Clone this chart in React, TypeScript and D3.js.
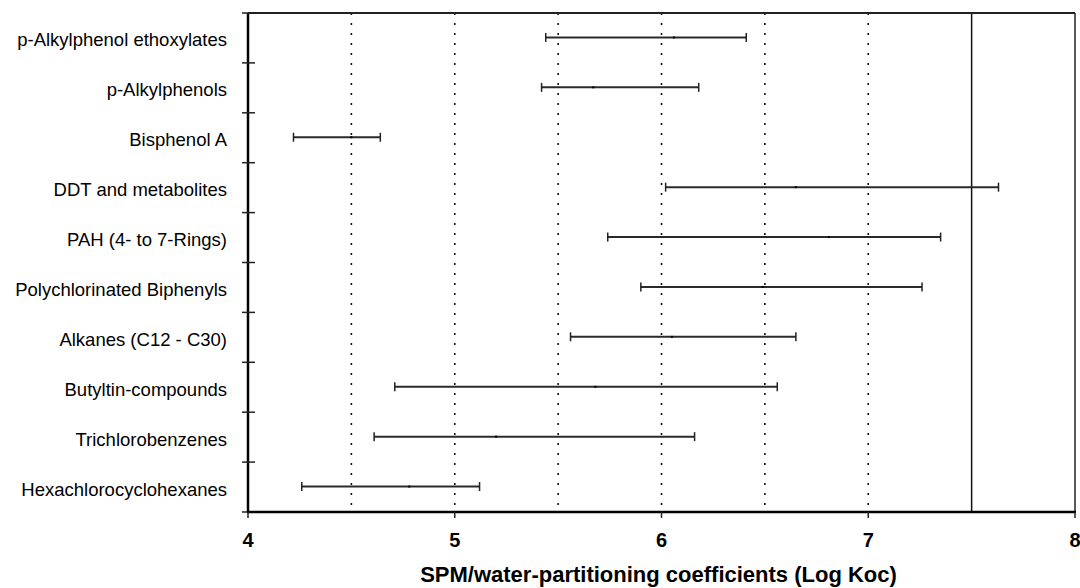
import React, { useEffect, useRef } from 'react';
import * as d3 from 'd3';

// categories, top to bottom
const categories = [
  'p-Alkylphenol ethoxylates',
  'p-Alkylphenols',
  'Bisphenol A',
  'DDT and metabolites',
  'PAH (4- to 7-Rings)',
  'Polychlorinated Biphenyls',
  'Alkanes (C12 - C30)',
  'Butyltin-compounds',
  'Trichlorobenzenes',
  'Hexachlorocyclohexanes',
];

// log Koc ranges
const lowValues = [5.44, 5.42, 4.22, 6.02, 5.74, 5.90, 5.56, 4.71, 4.61, 4.26];
const highValues = [6.41, 6.18, 4.64, 7.63, 7.35, 7.26, 6.65, 6.56, 6.16, 5.12];
const midValues = [6.06, 5.67, 4.50, 6.65, 6.81, 6.49, 6.05, 5.68, 5.20, 4.78];

const xTicks = [4, 5, 6, 7, 8];
const gridValues = [4.5, 5, 5.5, 6, 6.5, 7];
const limitValue = 7.5;
const xTitle = 'SPM/water-partitioning coefficients (Log Koc)';

export default function App() {
  const svgRef = useRef<SVGSVGElement | null>(null);

  useEffect(() => {
    if (!svgRef.current) return;
    const W = 1080;
    const H = 588;
    const margin = { top: 13, right: 5, bottom: 76, left: 248 };
    const width = W - margin.left - margin.right;
    const height = H - margin.top - margin.bottom;

    const svg = d3.select(svgRef.current);
    svg.selectAll('*').remove();
    svg.attr('width', W).attr('height', H);

    const g = svg.append('g').attr('transform', `translate(${margin.left},${margin.top})`);

    const x = d3.scaleLinear().domain([4, 8]).range([0, width]);
    const y = d3.scaleBand().domain(categories).range([0, height]);

    const font = 'Arial, "Liberation Sans", Helvetica, sans-serif';

    // dotted grid
    g.selectAll('line.grid')
      .data(gridValues)
      .join('line')
      .attr('class', 'grid')
      .attr('x1', d => x(d))
      .attr('x2', d => x(d))
      .attr('y1', 0)
      .attr('y2', height)
      .attr('stroke', '#111')
      .attr('stroke-width', 1.6)
      .attr('stroke-dasharray', '2,8');

    // solid reference line
    g.append('line')
      .attr('x1', x(limitValue))
      .attr('x2', x(limitValue))
      .attr('y1', 0)
      .attr('y2', height)
      .attr('stroke', '#111')
      .attr('stroke-width', 1.5);

    // frame: top and right
    g.append('line')
      .attr('x1', 0).attr('x2', width).attr('y1', 0).attr('y2', 0)
      .attr('stroke', '#222').attr('stroke-width', 2);
    g.append('line')
      .attr('x1', width).attr('x2', width).attr('y1', 0).attr('y2', height)
      .attr('stroke', '#222').attr('stroke-width', 1.5);

    // range bars
    const rows = categories.map((c, i) => ({
      c, lo: lowValues[i], hi: highValues[i], mid: midValues[i],
    }));
    const cy = (c: string) => (y(c) as number) + y.bandwidth() / 2 - 0.5;

    const bars = g.selectAll('g.bar').data(rows).join('g').attr('class', 'bar');
    bars.append('line')
      .attr('x1', d => x(d.lo)).attr('x2', d => x(d.hi))
      .attr('y1', d => cy(d.c)).attr('y2', d => cy(d.c))
      .attr('stroke', '#2a2a2a').attr('stroke-width', 2);
    bars.append('line')
      .attr('x1', d => x(d.lo)).attr('x2', d => x(d.lo))
      .attr('y1', d => cy(d.c) - 4.5).attr('y2', d => cy(d.c) + 4.5)
      .attr('stroke', '#222').attr('stroke-width', 1.5);
    bars.append('line')
      .attr('x1', d => x(d.hi)).attr('x2', d => x(d.hi))
      .attr('y1', d => cy(d.c) - 4.5).attr('y2', d => cy(d.c) + 4.5)
      .attr('stroke', '#222').attr('stroke-width', 1.5);
    bars.append('rect')
      .attr('x', d => x(d.mid) - 1).attr('y', d => cy(d.c) - 1)
      .attr('width', 2).attr('height', 2)
      .attr('fill', '#000');

    // left axis with crossing ticks at band boundaries
    const bounds = d3.range(categories.length + 1).map(i => i * y.step());
    g.append('line')
      .attr('x1', 0).attr('x2', 0).attr('y1', 0).attr('y2', height)
      .attr('stroke', '#000').attr('stroke-width', 2.5);
    g.selectAll('line.ytick')
      .data(bounds)
      .join('line')
      .attr('class', 'ytick')
      .attr('x1', -6).attr('x2', 7)
      .attr('y1', d => d).attr('y2', d => d)
      .attr('stroke', '#222').attr('stroke-width', 1.5);

    g.selectAll('text.ylab')
      .data(categories)
      .join('text')
      .attr('class', 'ylab')
      .attr('x', -21)
      .attr('y', d => (y(d) as number) + y.bandwidth() / 2 + 2)
      .attr('dy', '0.35em')
      .attr('text-anchor', 'end')
      .attr('font-family', font)
      .attr('font-size', 18.5)
      .attr('fill', '#000')
      .text(d => d);

    // bottom axis
    g.append('line')
      .attr('x1', -1).attr('x2', width + 1).attr('y1', height).attr('y2', height)
      .attr('stroke', '#000').attr('stroke-width', 2.5);
    g.selectAll('line.xtick')
      .data(xTicks)
      .join('line')
      .attr('class', 'xtick')
      .attr('x1', d => x(d)).attr('x2', d => x(d))
      .attr('y1', height).attr('y2', height + 6)
      .attr('stroke', '#222').attr('stroke-width', 1.5);
    g.selectAll('text.xlab')
      .data(xTicks)
      .join('text')
      .attr('class', 'xlab')
      .attr('x', d => x(d))
      .attr('y', height + 35)
      .attr('text-anchor', 'middle')
      .attr('font-family', font)
      .attr('font-weight', 'bold')
      .attr('font-size', 20)
      .attr('fill', '#000')
      .text(d => d);

    g.append('text')
      .attr('x', (x(4) + x(8)) / 2 - 3)
      .attr('y', height + 70)
      .attr('text-anchor', 'middle')
      .attr('font-family', font)
      .attr('font-weight', 'bold')
      .attr('font-size', 22)
      .attr('fill', '#000')
      .text(xTitle);
  }, []);

  return (
    <svg
      ref={svgRef}
      style={{ position: 'absolute', left: 0, top: 0, display: 'block', background: '#fff' }}
    />
  );
}
